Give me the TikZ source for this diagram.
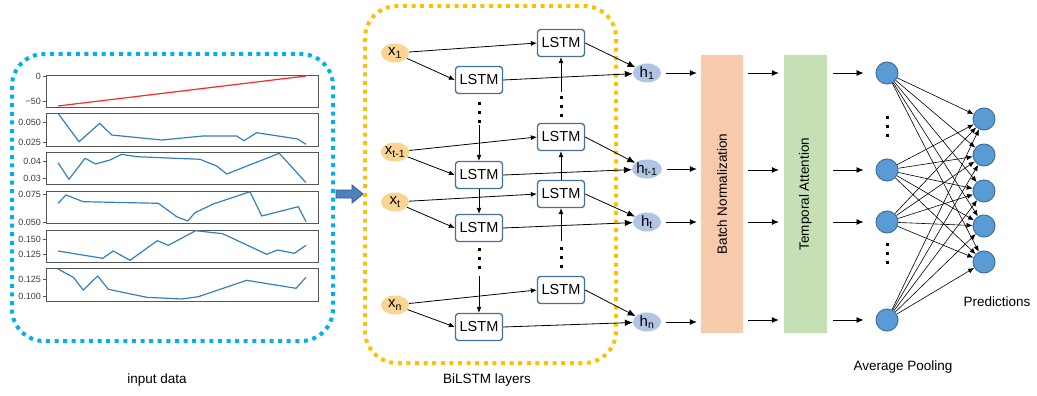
\documentclass[tikz,border=0pt]{standalone}
\usepackage{fontspec}
\setmainfont{Liberation Sans}
\usetikzlibrary{arrows.meta,shapes.geometric}
\definecolor{dotblue}{RGB}{0,176,240}
\definecolor{dotorange}{RGB}{255,192,0}
\definecolor{xfill}{RGB}{250,212,145}
\definecolor{hfill}{RGB}{176,196,230}
\definecolor{lstmborder}{RGB}{65,113,156}
\definecolor{bnfill}{RGB}{247,202,172}
\definecolor{tafill}{RGB}{197,224,180}
\definecolor{circfill}{RGB}{91,155,213}
\definecolor{circdraw}{RGB}{65,113,156}
\definecolor{series}{RGB}{50,128,192}
\definecolor{axisgray}{RGB}{85,85,85}
\definecolor{tickgray}{RGB}{60,60,60}
\definecolor{bigarrow}{RGB}{79,129,189}
\definecolor{bigarrowdraw}{RGB}{47,85,151}
\begin{document}
\begin{tikzpicture}[x=1pt,y=-1pt,
  frame/.style={line width=4pt, dash pattern=on 4pt off 4.6pt, rounded corners=32pt},
  axisbox/.style={draw=axisgray, line width=0.8pt},
  tick/.style={font=\fontsize{9}{10}\selectfont, text=tickgray, inner sep=0pt, anchor=east},
  ser/.style={series, line width=1.2pt, line join=round},
  xnode/.style={ellipse, fill=xfill, minimum width=28pt, minimum height=19pt, inner sep=0pt, font=\fontsize{15}{17}\selectfont},
  hnode/.style={ellipse, fill=hfill, minimum width=28pt, minimum height=19pt, inner sep=0pt, font=\fontsize{15}{17}\selectfont},
  lstm/.style={draw=lstmborder, line width=1.3pt, fill=white, rounded corners=3pt, minimum width=47pt, minimum height=27pt, inner sep=0pt, font=\fontsize{14.5}{16}\selectfont},
  arr/.style={-{Latex[length=6pt,width=5pt]}, line width=0.8pt},
  arrh/.style={-{Latex[length=8pt,width=6.5pt]}, line width=0.8pt},
  arrbn/.style={-{Latex[length=7pt,width=6pt]}, line width=0.8pt},
  netarr/.style={-{Latex[length=6pt,width=5pt]}, line width=0.6pt},
  vdots/.style={line width=3pt, dash pattern=on 3pt off 6pt},
  layer/.style={minimum width=42pt, minimum height=278pt, inner sep=0pt},
  layertext/.style={rotate=90, font=\fontsize{13.5}{15}\selectfont},
  neuron/.style={circle, fill=circfill, draw=circdraw, line width=1pt, minimum size=22pt, inner sep=0pt},
  caption/.style={font=\fontsize{13.5}{16}\selectfont}
]
\useasboundingbox (0,0) rectangle (1037,396);

% ---------- input data panel ----------
\draw[frame, dotblue] (12,54) rectangle (333,341);
\node[caption] (cap1) at (157,380) {input data};

% plot boxes
\draw[axisbox] (46,75) rectangle (318,107);
\draw[axisbox] (46,113) rectangle (318,146);
\draw[axisbox] (46,152) rectangle (318,184);
\draw[axisbox] (46,191) rectangle (318,223);
\draw[axisbox] (46,230) rectangle (318,262);
\draw[axisbox] (46,268) rectangle (318,301);
% ticks
\foreach \ty in {76,101,122,142,161,178,194,222,239,254,279,296}
  \draw[axisbox] (43,\ty) -- (46,\ty);
\node[tick] (ta1) at (41,76) {0};
\node[tick] (ta2) at (41,101) {−50};
\node[tick] (tb1) at (41,122) {0.050};
\node[tick] (tb2) at (41,142) {0.025};
\node[tick] (tc1) at (41,161) {0.04};
\node[tick] (tc2) at (41,178) {0.03};
\node[tick] (td1) at (41,194) {0.075};
\node[tick] (td2) at (41,222) {0.050};
\node[tick] (te1) at (41,239) {0.150};
\node[tick] (te2) at (41,254) {0.125};
\node[tick] (tf1) at (41,279) {0.125};
\node[tick] (tf2) at (41,296) {0.100};
% series
\draw[line width=1.2pt, red!85!white] (58,106) -- (306,76);
\draw[ser] plot coordinates {(58,113.3) (79,141.7) (99.7,123.3) (111.7,135) (161.7,140) (203,136) (236.7,136) (244,140.7) (256.7,132.7) (297.7,139) (306,144.3)};
\draw[ser] plot coordinates {(58,162.7) (69,179.3) (85,158.3) (95.7,164) (110,160) (121.7,154.3) (136.7,156.7) (200,159.3) (216.7,166) (226.7,174) (279.3,153.3) (306,182.7)};
\draw[ser] plot coordinates {(58,203.3) (66,195) (83.3,201.7) (158.3,203.3) (176.7,216.7) (187.7,221) (195,212.7) (213.3,204) (250,191.7) (261.7,216) (298.3,206.7) (306,221.7)};
\draw[ser] plot coordinates {(58,251) (102.7,258.3) (113.3,251) (130,260.3) (157.3,240.7) (168.3,245.3) (195.7,230.7) (222.7,233.7) (266.7,254.3) (277.7,250) (294.3,253.3) (306,245.3)};
\draw[ser] plot coordinates {(58,269) (73.3,277.3) (83.3,290) (97.7,276) (108.3,289.3) (146.7,297.3) (181.7,299) (198.3,296.7) (246.7,280.3) (296,288.3) (306,277.3)};

% big arrow
\draw[fill=bigarrow, draw=bigarrowdraw, line width=0.8pt] (336,190) -- (352,190) -- (352,185) -- (363,194) -- (352,203) -- (352,198) -- (336,198) -- cycle;

% ---------- BiLSTM panel ----------
\draw[frame, dotorange] (365,6) rectangle (616,363);
\node[caption] (cap2) at (487,380) {BiLSTM layers};

\node[xnode] (x1)  at (395,53)  {x\textsubscript{1}};
\node[xnode] (xt1) at (395,152) {x\textsubscript{t-1}};
\node[xnode] (xt)  at (395,202) {x\textsubscript{t}};
\node[xnode] (xn)  at (395,305) {x\textsubscript{n}};

\node[lstm] (a1)  at (479,80)  {LSTM};
\node[lstm] (at1) at (479,175) {LSTM};
\node[lstm] (at)  at (479,228) {LSTM};
\node[lstm] (an)  at (479,327) {LSTM};

\node[lstm] (b1)  at (561,43)  {LSTM};
\node[lstm] (bt1) at (561,137) {LSTM};
\node[lstm] (bt)  at (561,194) {LSTM};
\node[lstm] (bn)  at (561,290) {LSTM};

\node[hnode] (h1)  at (647,73)  {h\textsubscript{1}};
\node[hnode] (ht1) at (647,169) {h\textsubscript{t-1}};
\node[hnode] (ht)  at (647,222) {h\textsubscript{t}};
\node[hnode] (hn)  at (647,322) {h\textsubscript{n}};

\foreach \s/\l/\u/\h in {x1/a1/b1/h1, xt1/at1/bt1/ht1, xt/at/bt/ht, xn/an/bn/hn}{
  \draw[arr] (\s) -- (\u.west);
  \draw[arr] (\s) -- (\l.west);
  \draw[arrh] (\u.east) -- (\h);
  \draw[arrh] (\l.east) -- (\h);
}

% lower (forward) column
\draw[vdots] (479,102) -- (479,124);
\coordinate (la1) at (479,125);
\draw[arr] (la1) -- (at1);
\draw[arr] (at1) -- (at);
\draw[vdots] (479,248) -- (479,270);
\coordinate (la2) at (479,276);
\draw[arr] (la2) -- (an);
% upper (backward) column
\draw[arr] (bt) -- (bt1);
\draw[vdots] (561,117) -- (561,95);
\coordinate (ub1) at (561,92);
\draw[arr] (ub1) -- (b1);
\draw[vdots] (561,268) -- (561,246);
\coordinate (ub2) at (561,241);
\draw[arr] (ub2) -- (bt);

% ---------- layers ----------
\node[layer, fill=bnfill] (bnorm) at (722,194) {};
\node[layertext] (bnlabel) at (bnorm.center) {Batch Normalization};
\node[layer, fill=tafill, minimum width=43pt] (tatt) at (805.5,194) {};
\node[layertext] (talabel) at (tatt.center) {Temporal Attention};

\node[neuron] (p1) at (887,73)  {};
\node[neuron] (p2) at (887,170) {};
\node[neuron] (p3) at (887,222) {};
\node[neuron] (p4) at (887,320) {};

\node[neuron] (q1) at (984,119) {};
\node[neuron] (q2) at (984,155) {};
\node[neuron] (q3) at (984,191) {};
\node[neuron] (q4) at (984,226) {};
\node[neuron] (q5) at (984,262) {};

\foreach \h/\p in {h1/p1, ht1/p2, ht/p3, hn/p4}{
  \draw[arrbn] ([xshift=5pt]\h.east) -- ([xshift=-4pt]\h.east -| bnorm.west);
  \draw[arrbn] ([xshift=5pt]\p -| bnorm.east) -- ([xshift=-5pt]\p -| tatt.west);
  \draw[arrbn] ([xshift=6pt]\p -| tatt.east) -- ([xshift=-12pt]\p.west);
}

\draw[vdots] (887,116) -- (887,138);
\draw[vdots] (887,243) -- (887,265);

\foreach \i in {1,...,4}
  \foreach \j in {1,...,5}
    \draw[netarr] (p\i) -- (q\j);

\node[caption] (cap3) at (997,302) {Predictions};
\node[caption] (cap4) at (903,367) {Average Pooling};
\end{tikzpicture}
\end{document}
